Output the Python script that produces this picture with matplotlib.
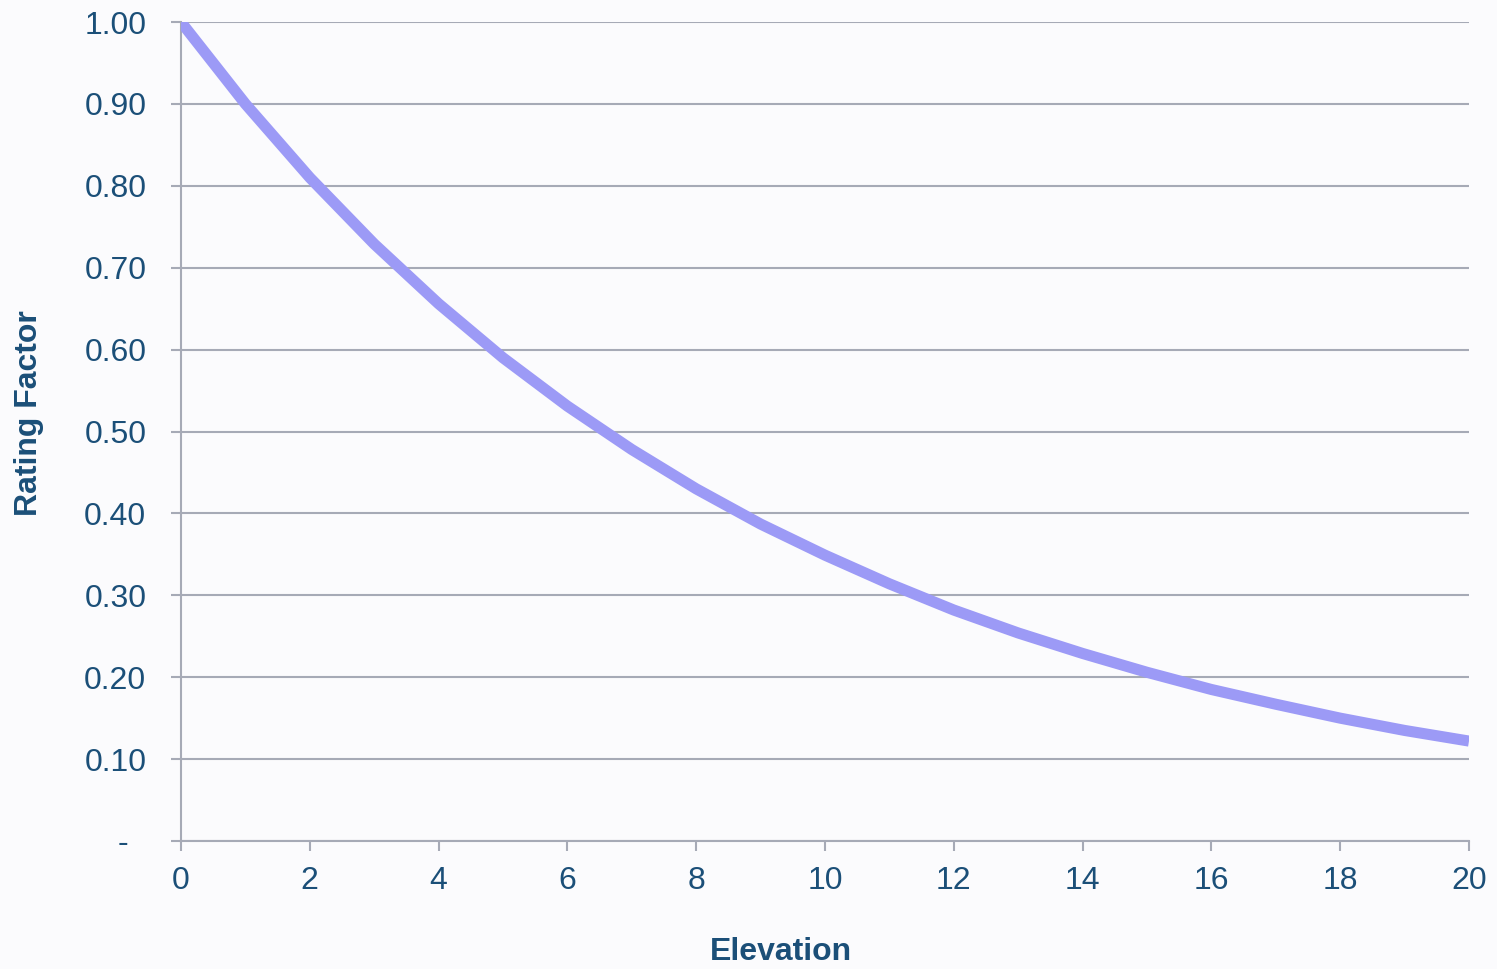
import matplotlib.pyplot as plt
from matplotlib.ticker import FuncFormatter

# values
elevation = list(range(0, 21))
rating_factor = [1.000, 0.900, 0.810, 0.729, 0.656, 0.590, 0.531, 0.478, 0.430,
                 0.387, 0.349, 0.314, 0.282, 0.254, 0.229, 0.206, 0.185, 0.167,
                 0.150, 0.135, 0.122]
x_ticks = list(range(0, 21, 2))
y_ticks = [0.0, 0.1, 0.2, 0.3, 0.4, 0.5, 0.6, 0.7, 0.8, 0.9, 1.0]

text_col = "#1b4f78"
grid_col = "#a6aab6"
line_col = "#9c9af6"

plt.rcParams["font.family"] = ["Liberation Sans", "DejaVu Sans"]

fig = plt.figure(figsize=(14.97, 9.69), dpi=100, facecolor="#fbfbfd")
ax = fig.add_axes([181 / 1497, 1 - 841 / 969, (1469 - 181) / 1497, (841 - 22) / 969])
ax.set_facecolor("#fbfbfd")

ax.plot(elevation, rating_factor, color=line_col, lw=8, solid_capstyle="butt",
        solid_joinstyle="round", zorder=3)

ax.set_xlim(0, 20)
ax.set_ylim(0, 1.0)
ax.set_xticks(x_ticks)
ax.set_yticks(y_ticks)

def yfmt(v, pos):
    return "-  " if abs(v) < 1e-9 else f"{v:.2f}"

ax.yaxis.set_major_formatter(FuncFormatter(yfmt))
ax.grid(axis="y", color=grid_col, lw=1.5, zorder=1)
ax.tick_params(axis="y", length=7, width=1.5, color=grid_col, pad=18,
               labelsize=23, labelcolor=text_col)
ax.tick_params(axis="x", length=7, width=1.5, color=grid_col, pad=11,
               labelsize=23, labelcolor=text_col)

for side in ["top", "right"]:
    ax.spines[side].set_visible(False)
for side in ["left", "bottom"]:
    ax.spines[side].set_color(grid_col)
    ax.spines[side].set_linewidth(1.5)

fig.text(781 / 1497, 1 - 952 / 969, "Elevation", ha="center", va="center",
         fontsize=23, fontweight="bold", color=text_col)
fig.text(29 / 1497, 1 - 413 / 969, "Rating Factor", ha="center", va="center",
         rotation=90, fontsize=23, fontweight="bold", color=text_col)

fig.savefig("out.png", dpi=100, facecolor=fig.get_facecolor())
